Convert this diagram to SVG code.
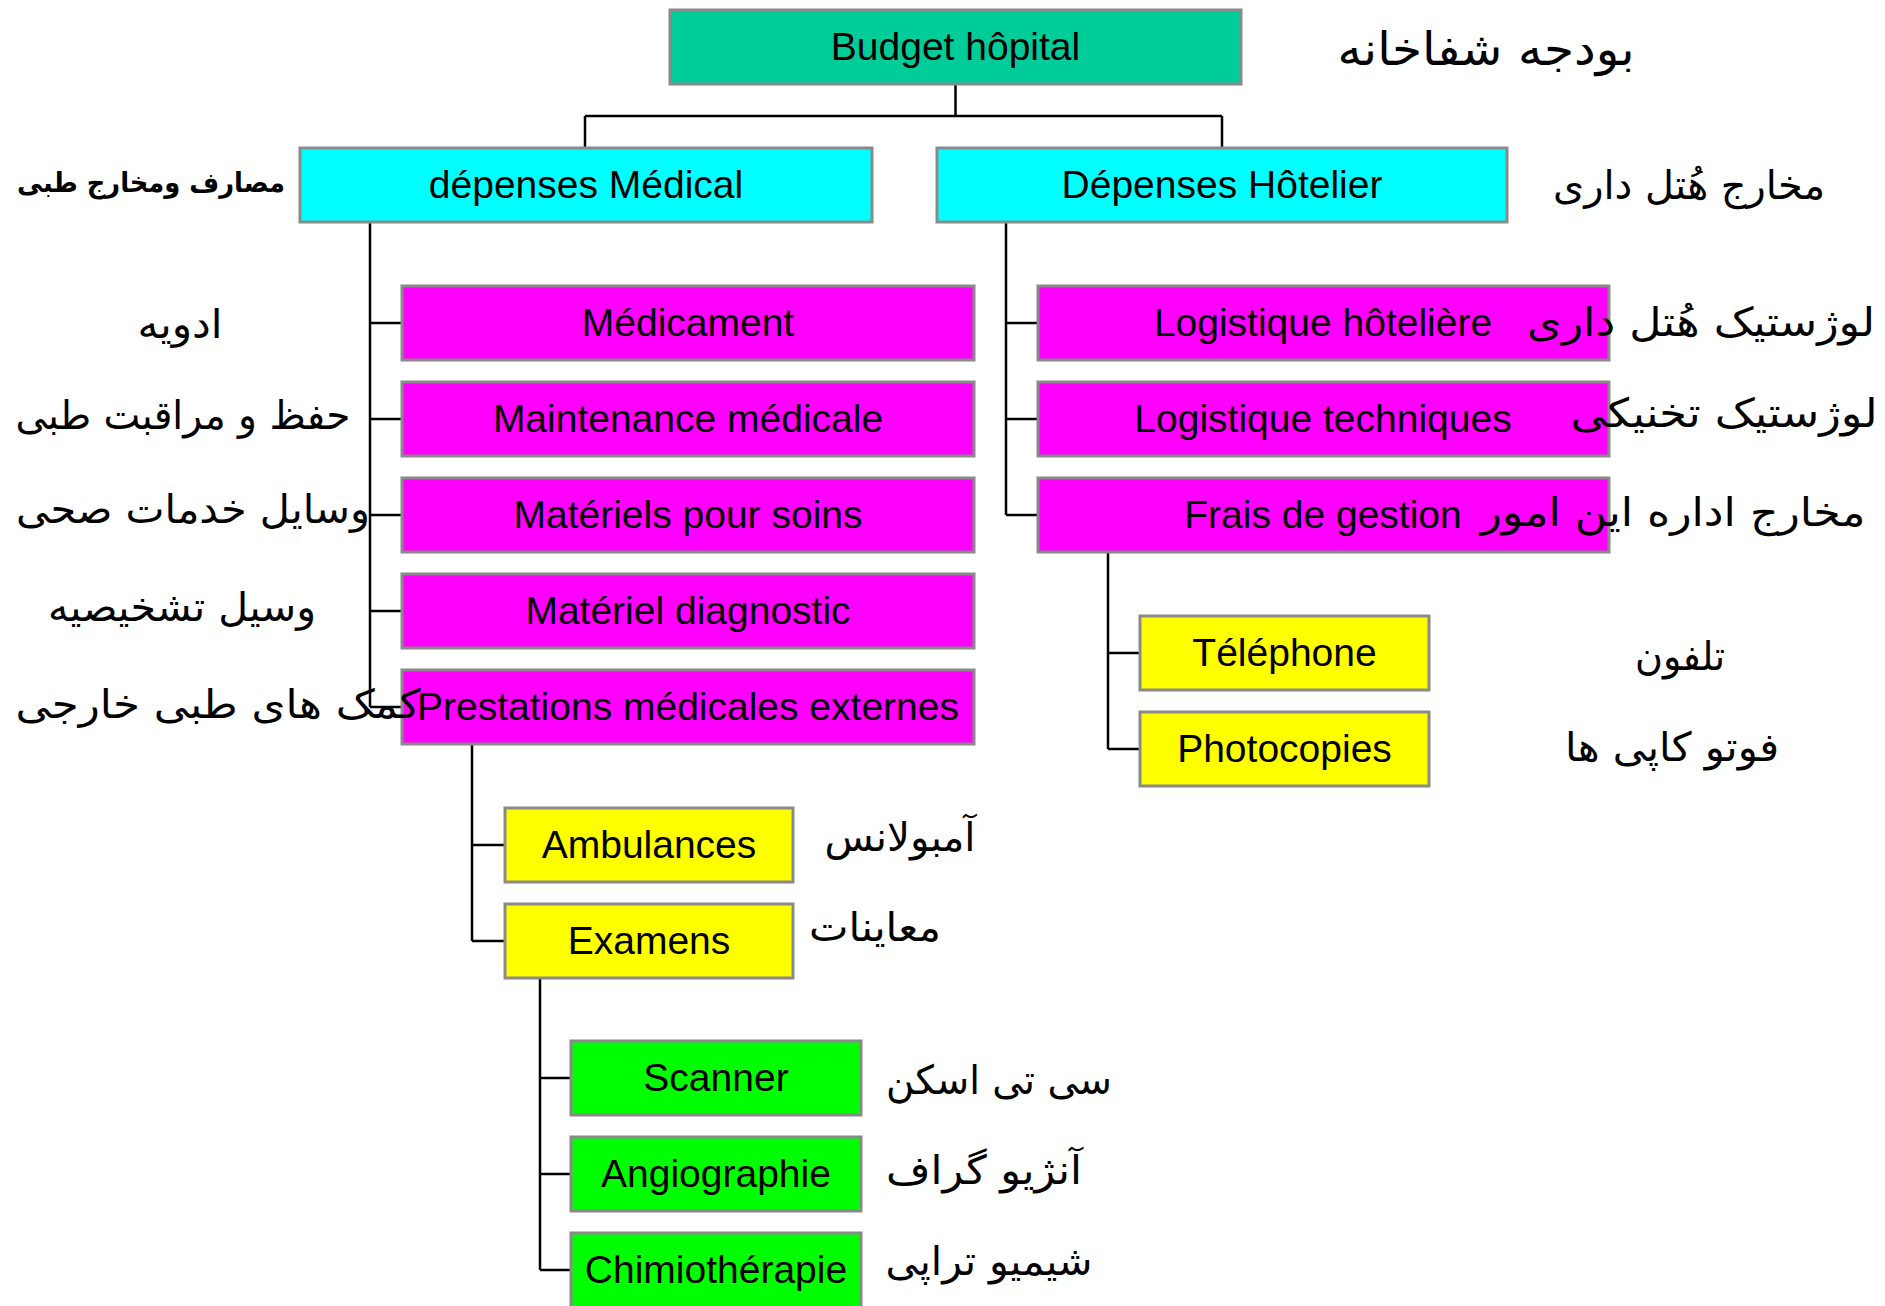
<svg xmlns="http://www.w3.org/2000/svg" width="1885" height="1306" viewBox="0 0 1885 1306">
<style>
.box{stroke:#8a8a8a;stroke-width:3}
.lbl{font-family:"Liberation Sans",Arial,sans-serif;font-size:39px;fill:#000;text-anchor:middle}
.ar{font-family:"DejaVu Sans",sans-serif;font-size:40px;fill:#000;text-anchor:middle}
.conn{fill:none;stroke:#000;stroke-width:2.5}
</style>
<rect width="1885" height="1306" fill="#fff"/>
<g id="connectors" class="conn">
<path d="M955.5 84V116M585 116H1222M585 116V148M1222 116V148"/>
<path d="M370 222V707M370 323H402M370 419H402M370 515H402M370 611H402M370 707H402"/>
<path d="M1006 222V515M1006 323H1038M1006 419H1038M1006 515H1038"/>
<path d="M1108 552V749M1108 653H1140M1108 749H1140"/>
<path d="M472 744V941M472 845H505M472 941H505"/>
<path d="M540 978V1270M540 1078H571M540 1174H571M540 1270H571"/>
</g>
<g id="n-budget"><rect class="box" x="670" y="10" width="571" height="74" fill="#00cc99"/><text class="lbl" x="955.5" y="60">Budget hôpital</text></g>
<g id="n-medical"><rect class="box" x="300" y="148" width="572" height="74" fill="#00ffff"/><text class="lbl" x="586" y="198">dépenses Médical</text></g>
<g id="n-hotelier"><rect class="box" x="937" y="148" width="570" height="74" fill="#00ffff"/><text class="lbl" x="1222" y="198">Dépenses Hôtelier</text></g>
<g id="n-medicament"><rect class="box" x="402" y="286" width="572" height="74" fill="#ff00ff"/><text class="lbl" x="688" y="336">Médicament</text></g>
<g id="n-maintenance"><rect class="box" x="402" y="382" width="572" height="74" fill="#ff00ff"/><text class="lbl" x="688" y="432">Maintenance médicale</text></g>
<g id="n-materiels"><rect class="box" x="402" y="478" width="572" height="74" fill="#ff00ff"/><text class="lbl" x="688" y="528">Matériels pour soins</text></g>
<g id="n-diagnostic"><rect class="box" x="402" y="574" width="572" height="74" fill="#ff00ff"/><text class="lbl" x="688" y="624">Matériel diagnostic</text></g>
<g id="n-prestations"><rect class="box" x="402" y="670" width="572" height="74" fill="#ff00ff"/><text class="lbl" x="688" y="720">Prestations médicales externes</text></g>
<g id="n-loghot"><rect class="box" x="1038" y="286" width="571" height="74" fill="#ff00ff"/><text class="lbl" x="1323" y="336">Logistique hôtelière</text></g>
<g id="n-logtech"><rect class="box" x="1038" y="382" width="571" height="74" fill="#ff00ff"/><text class="lbl" x="1323" y="432">Logistique techniques</text></g>
<g id="n-frais"><rect class="box" x="1038" y="478" width="571" height="74" fill="#ff00ff"/><text class="lbl" x="1323" y="528">Frais de gestion</text></g>
<g id="n-telephone"><rect class="box" x="1140" y="616" width="289" height="74" fill="#ffff00"/><text class="lbl" x="1284.5" y="666">Téléphone</text></g>
<g id="n-photocopies"><rect class="box" x="1140" y="712" width="289" height="74" fill="#ffff00"/><text class="lbl" x="1284.5" y="762">Photocopies</text></g>
<g id="n-ambulances"><rect class="box" x="505" y="808" width="288" height="74" fill="#ffff00"/><text class="lbl" x="649" y="858">Ambulances</text></g>
<g id="n-examens"><rect class="box" x="505" y="904" width="288" height="74" fill="#ffff00"/><text class="lbl" x="649" y="954">Examens</text></g>
<g id="n-scanner"><rect class="box" x="571" y="1041" width="290" height="74" fill="#00ff00"/><text class="lbl" x="716" y="1091">Scanner</text></g>
<g id="n-angio"><rect class="box" x="571" y="1137" width="290" height="74" fill="#00ff00"/><text class="lbl" x="716" y="1187">Angiographie</text></g>
<g id="n-chimio"><rect class="box" x="571" y="1233" width="290" height="74" fill="#00ff00"/><text class="lbl" x="716" y="1283">Chimiothérapie</text></g>
<g id="arabic-labels">
<text class="ar" x="1486" y="65" style="font-size:46px" textLength="297" lengthAdjust="spacingAndGlyphs">بودجه شفاخانه</text>
<text class="ar" x="151" y="192" style="font-size:28px;font-weight:bold" textLength="268" lengthAdjust="spacingAndGlyphs">مصارف ومخارج طبی</text>
<text class="ar" x="1689" y="199" textLength="272" lengthAdjust="spacingAndGlyphs">مخارج هُتل داری</text>
<text class="ar" x="180" y="338" textLength="85" lengthAdjust="spacingAndGlyphs">ادویه</text>
<text class="ar" x="183" y="429" textLength="335" lengthAdjust="spacingAndGlyphs">حفظ و مراقبت طبی</text>
<text class="ar" x="193" y="523" textLength="354" lengthAdjust="spacingAndGlyphs">وسایل خدمات صحی</text>
<text class="ar" x="182" y="621" textLength="268" lengthAdjust="spacingAndGlyphs">وسیل تشخیصیه</text>
<text class="ar" x="218" y="718" textLength="405" lengthAdjust="spacingAndGlyphs">کمک های طبی خارجی</text>
<text class="ar" x="1701" y="336" textLength="348" lengthAdjust="spacingAndGlyphs">لوژستیک هُتل داری</text>
<text class="ar" x="1724" y="427" textLength="307" lengthAdjust="spacingAndGlyphs">لوژستیک تخنیکی</text>
<text class="ar" x="1673" y="526" textLength="385" lengthAdjust="spacingAndGlyphs">مخارج اداره  این امور</text>
<text class="ar" x="1680" y="670" textLength="90" lengthAdjust="spacingAndGlyphs">تلفون</text>
<text class="ar" x="1672" y="761" textLength="214" lengthAdjust="spacingAndGlyphs">فوتو کاپی ها</text>
<text class="ar" x="900" y="851" textLength="151" lengthAdjust="spacingAndGlyphs">آمبولانس</text>
<text class="ar" x="875" y="941" textLength="132" lengthAdjust="spacingAndGlyphs">معاینات</text>
<text class="ar" x="999" y="1094" textLength="226" lengthAdjust="spacingAndGlyphs">سی تی اسکن</text>
<text class="ar" x="984" y="1184" textLength="196" lengthAdjust="spacingAndGlyphs">آنژیو گراف</text>
<text class="ar" x="989" y="1275" textLength="207" lengthAdjust="spacingAndGlyphs">شیمیو تراپی</text>
</g>
</svg>
